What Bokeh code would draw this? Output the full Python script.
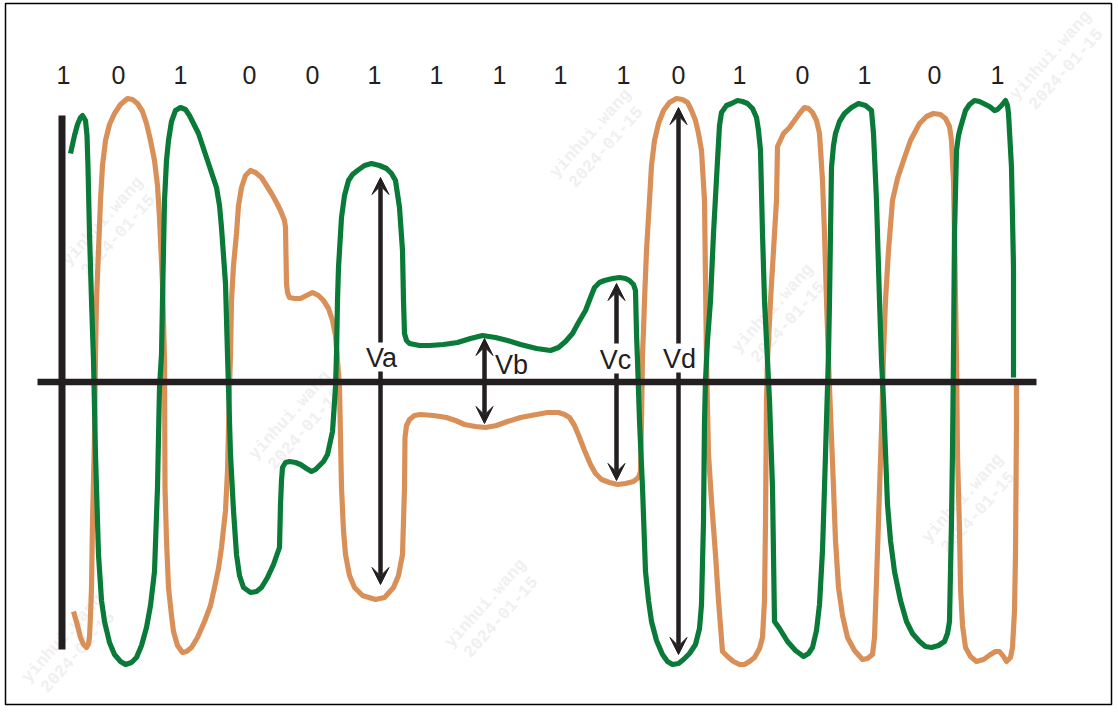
from bokeh.plotting import figure
from bokeh.models import Range1d, Arrow, VeeHead
from bokeh.core.properties import value
from bokeh.embed import file_html
from bokeh.resources import INLINE

# ---------------- data (traced in picture coordinates, y grows downward) -------------
bits = ["1", "0", "1", "0", "0", "1", "1", "1", "1", "1", "0", "1", "0", "1", "0", "1"]
bit_x = [63, 118, 180, 249, 312, 374, 436, 499, 560, 623, 678, 739, 802, 864, 934, 997]
bit_y = 74

green_x = [70, 74, 77, 80, 82, 85, 86.5, 87.5, 89, 91, 93, 95, 98, 101, 104, 109, 114, 120, 125, 131, 136, 141, 146, 150, 154, 157, 159, 161,
           162, 164, 166, 168, 171, 175, 180, 185, 189, 198, 207, 216, 219, 221, 225, 227, 230, 233, 236, 239, 243, 250, 256, 261, 267, 273,
           279, 280, 281, 282, 285, 289, 295, 300, 306, 311, 315, 318, 323, 327, 332, 335, 336, 337, 338, 341, 344, 348, 352, 357, 364, 371,
           379, 386, 391, 395, 399, 402, 403, 404, 406, 409, 419, 429, 443, 457, 470, 482, 495, 507, 520, 536, 550, 558, 565, 572, 578, 585,
           590, 594, 599, 604, 612, 619, 625, 629, 633, 635, 636, 637, 639, 642, 645, 648, 651, 656, 662, 667, 672, 678, 683, 689, 695, 699,
           701, 703, 704, 705, 707, 710, 713, 717, 719, 721, 726, 731, 737, 742, 747, 752, 756, 758, 760, 762, 764, 767, 769, 772, 774, 779,
           787, 795, 803, 808, 812, 816, 819, 822, 824, 826, 828, 829, 831, 833, 835, 839, 844, 851, 858, 865, 871, 873, 876, 879, 881, 883,
           887, 890, 894, 900, 906, 912, 919, 925, 931, 938, 944, 947, 949, 951, 952, 953, 954, 956, 958, 960, 965, 969, 974, 979, 983, 989,
           994, 997, 1001, 1005, 1007, 1008, 1011, 1013, 1013]
green_y = [153, 135, 124, 117, 115, 120, 135, 167, 233, 300, 360, 454, 554, 600, 621, 642, 654, 661, 664, 662, 657, 645, 627, 605, 571, 487,
           387, 354, 300, 200, 160, 140, 121, 110, 107, 109, 115, 133, 160, 187, 205, 227, 283, 354, 454, 510, 554, 575, 587, 592, 591, 587,
           577, 564, 547, 504, 480, 467, 462, 461, 462, 464, 468, 471, 469, 466, 461, 454, 431, 387, 354, 300, 267, 217, 195, 180, 174, 170,
           165, 163, 165, 168, 173, 180, 207, 250, 300, 333, 340, 343, 345, 345, 344, 342, 338, 335, 337, 340, 344, 348, 350, 347, 341, 333,
           322, 310, 297, 287, 282, 280, 278, 277, 278, 280, 284, 290, 333, 360, 420, 487, 571, 600, 621, 640, 654, 661, 664, 663, 659, 653,
           644, 628, 604, 521, 421, 380, 340, 300, 233, 160, 125, 112, 105, 103, 100, 101, 103, 108, 117, 130, 150, 233, 300, 360, 400, 487,
           621, 628, 641, 650, 656, 653, 647, 630, 604, 550, 487, 420, 354, 300, 167, 145, 133, 121, 113, 107, 103, 105, 110, 133, 200, 300,
           360, 400, 504, 540, 571, 600, 621, 633, 641, 646, 647, 645, 641, 633, 621, 521, 450, 354, 233, 150, 135, 127, 110, 104, 100, 101,
           103, 106, 110, 109, 105, 100, 105, 113, 167, 267, 377]

orange_x = [73, 77, 80, 83, 86, 88, 89, 90, 91, 92, 94, 95, 96, 98, 100, 102, 105, 109, 114, 120, 127, 132, 137, 142, 146, 150, 154, 157,
            159, 162, 164, 164.5, 166, 168, 171, 173, 177, 182, 186, 191, 197, 204, 210, 214, 218, 221, 225, 227, 229, 230, 231, 233, 236,
            238, 241, 245, 250, 255, 261, 266, 271, 276, 280, 284, 285, 286, 287, 289, 294, 300, 306, 312, 318, 323, 328, 332, 335, 337, 339,
            341, 343, 345, 349, 354, 362, 375, 384, 393, 398, 402, 404, 404.5, 406, 409, 414, 420, 433, 446, 455, 464, 475, 485, 496, 507,
            520, 536, 547, 558, 564, 569, 574, 579, 584, 590, 595, 601, 609, 617, 625, 633, 638, 640, 641, 642, 643, 644, 646, 649, 651, 654,
            658, 663, 669, 676, 682, 687, 691, 695, 698, 701, 704, 705, 706, 708, 711, 715, 718, 722, 727, 733, 739, 744, 749, 754, 759, 762,
            764, 765, 766, 767, 770, 773, 776, 777, 783, 789, 794, 799, 804, 808, 812, 816, 819, 822, 824, 826, 828, 829, 833, 835, 838, 842,
            847, 854, 862, 867, 872, 874, 876, 878, 881, 883, 885, 888, 892, 897, 903, 910, 919, 926, 933, 940, 945, 949, 951, 953, 954, 956,
            957, 959, 960, 962, 965, 970, 976, 983, 990, 995, 999, 1003, 1006, 1010, 1012, 1014, 1015, 1016, 1016]
orange_y = [611, 625, 637, 644, 647, 643, 637, 615, 587, 521, 437, 354, 300, 250, 200, 165, 140, 124, 113, 104, 98, 99, 103, 111, 123, 140,
            160, 185, 217, 283, 360, 487, 540, 587, 615, 631, 645, 652, 651, 647, 637, 621, 605, 587, 568, 547, 510, 471, 387, 354, 300, 265,
            233, 205, 187, 175, 170, 172, 177, 185, 193, 202, 210, 220, 227, 283, 292, 297, 298, 298, 295, 292, 295, 300, 308, 320, 335, 360,
            387, 487, 530, 554, 575, 587, 595, 599, 597, 587, 575, 554, 487, 437, 425, 419, 415, 414, 415, 417, 420, 424, 426, 427, 425, 421,
            417, 414, 412, 412, 414, 417, 425, 437, 450, 464, 473, 479, 482, 484, 483, 481, 477, 471, 421, 354, 330, 300, 250, 200, 165, 140,
            123, 110, 102, 98, 99, 102, 110, 120, 133, 150, 200, 280, 360, 454, 500, 554, 600, 651, 656, 661, 664, 664, 661, 657, 648, 637,
            600, 521, 400, 360, 300, 250, 200, 146, 133, 127, 120, 113, 107, 108, 112, 120, 133, 180, 233, 300, 360, 387, 487, 540, 587, 615,
            637, 650, 659, 658, 654, 637, 580, 521, 430, 354, 300, 250, 200, 178, 160, 140, 123, 116, 113, 114, 118, 126, 140, 180, 233, 360,
            454, 530, 587, 625, 647, 656, 661, 659, 654, 651, 651, 656, 661, 657, 647, 610, 554, 421, 384]

# measurement arrows: label, x, upper tip, lower tip, gap top, gap bottom, label position
meas_labels = ["Va", "Vb", "Vc", "Vd"]
meas_x = [380, 484, 616, 678]
meas_top = [177, 338, 283, 107]
meas_bottom = [584, 423, 480, 654]
meas_gap_top = [342, None, 343, 343]
meas_gap_bottom = [371, None, 373, 372]
label_x = [381, 511, 615, 679]
label_y = [357, 364, 359, 358]

# watermark tiles
wm_x = [110, 598, 780, 297, 493, 970, 1058, 70]
wm_y = [228, 140, 315, 422, 610, 505, 62, 645]

# frame & axes
frame = dict(left=5, right=1111, top=3, bottom=704)
vaxis = dict(x=61.5, y0=115, y1=649)
haxis = dict(y=381.5, x0=37, x1=1036)

INK = "#231f20"
GREEN = "#0a7a38"
ORANGE = "#d99058"

# ---------------- figure -------------
W, H = 1118, 714
p = figure(width=W, height=H, x_range=Range1d(0, W), y_range=Range1d(H, 0),
           output_backend="svg", toolbar_location=None, min_border=0,
           x_axis_location=None, y_axis_location=None)
p.grid.visible = False
p.outline_line_color = None
p.background_fill_color = "white"
p.border_fill_color = "white"

# watermark
p.text(x=wm_x, y=wm_y, text=["yinhui.wang\n2024-01-15"] * len(wm_x), angle=0.84,
       text_font=value("Liberation Mono"), text_font_style="bold", text_font_size="17px",
       text_color="#f0f0f0", text_align="center", text_baseline="middle", text_line_height=1.1)

# frame
p.quad(left=[frame["left"]], right=[frame["right"]], top=[frame["top"]], bottom=[frame["bottom"]],
       fill_color=None, line_color="black", line_width=1.5)

# curves
p.line(orange_x, orange_y, line_color=ORANGE, line_width=5.2, line_join="round", line_cap="butt")
p.line(green_x, green_y, line_color=GREEN, line_width=5.2, line_join="round", line_cap="butt")

# axes
p.segment(x0=[vaxis["x"]], y0=[vaxis["y0"]], x1=[vaxis["x"]], y1=[vaxis["y1"]], line_color=INK, line_width=7)
p.segment(x0=[haxis["x0"]], y0=[haxis["y"]], x1=[haxis["x1"]], y1=[haxis["y"]], line_color=INK, line_width=6.5)

# arrows
for lab, x, t, b, gt, gb in zip(meas_labels, meas_x, meas_top, meas_bottom, meas_gap_top, meas_gap_bottom):
    if gt is None:
        p.add_layout(Arrow(start=VeeHead(size=17, fill_color=INK, line_color=INK),
                           end=VeeHead(size=17, fill_color=INK, line_color=INK),
                           x_start=x, y_start=b, x_end=x, y_end=t, line_color=INK, line_width=4.5))
    else:
        p.add_layout(Arrow(end=VeeHead(size=17, fill_color=INK, line_color=INK),
                           x_start=x, y_start=gt, x_end=x, y_end=t, line_color=INK, line_width=4.5))
        p.add_layout(Arrow(end=VeeHead(size=17, fill_color=INK, line_color=INK),
                           x_start=x, y_start=gb, x_end=x, y_end=b, line_color=INK, line_width=4.5))

# texts
p.text(x=bit_x, y=[bit_y] * len(bit_x), text=bits, text_font=value("Liberation Sans"),
       text_font_size="25px", text_color=INK, text_align="center", text_baseline="middle")
p.text(x=label_x, y=label_y, text=meas_labels, text_font=value("Liberation Sans"),
       text_font_size="27px", text_color=INK, text_align="center", text_baseline="middle")

open("out.html", "w").write(file_html(p, INLINE))
